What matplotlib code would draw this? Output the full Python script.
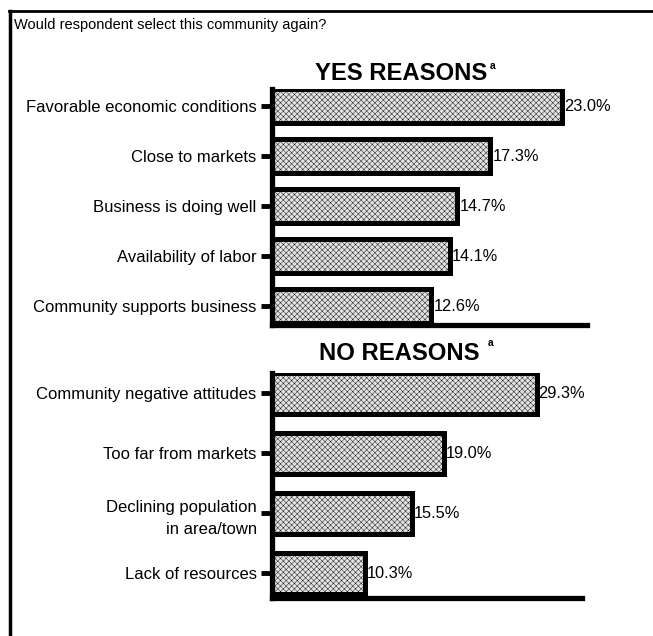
import matplotlib
matplotlib.use("Agg")
import matplotlib.pyplot as plt
from matplotlib.lines import Line2D

plt.rcParams['font.family'] = ['Liberation Sans', 'DejaVu Sans']
plt.rcParams['hatch.linewidth'] = 0.3

# Dane
yes_labels = ["Favorable economic conditions", "Close to markets", "Business is doing well",
              "Availability of labor", "Community supports business"]
yes_values = [23.0, 17.3, 14.7, 14.1, 12.6]

no_labels = ["Community negative attitudes", "Too far from markets",
             "Declining population\nin area/town", "Lack of resources"]
no_values = [29.3, 19.0, 15.5, 10.3]

W, H = 653, 636
fig = plt.figure(figsize=(W / 100, H / 100), dpi=100)


def px(x0, y0, x1, y1):
    # piksele (od gory) -> ulamki figury
    return [x0 / W, 1 - y1 / H, (x1 - x0) / W, (y1 - y0) / H]


def panel(rect, labels, values, xmax, ymax):
    ax = fig.add_axes(rect)
    pos = list(range(len(values)))
    ax.barh(pos, values, height=0.68, color='#e2e2e2', edgecolor='black',
            linewidth=3.6, hatch='xxxxxx', zorder=2)
    for p, v in zip(pos, values):
        ax.text(v + 0.2, p, f"{v:.1f}%", va='center', ha='left', fontsize=11.8)
    ax.set_xlim(0, xmax)
    ax.set_ylim(ymax, -0.34)
    ax.set_yticks(pos)
    ax.set_yticklabels(labels, fontsize=12, linespacing=1.6)
    ax.set_xticks([])
    for s in ['top', 'right']:
        ax.spines[s].set_visible(False)
    ax.spines['left'].set_linewidth(3.8)
    ax.spines['bottom'].set_linewidth(3.8)
    ax.tick_params(axis='y', length=8, width=3.5, pad=3)
    return ax


ax1 = panel(px(272, 89, 587, 325), yes_labels, yes_values, 25, 4.38)
ax2 = panel(px(272, 373, 582, 598), no_labels, no_values, 34.3, 3.41)

fig.text(14 / W, 1 - 25 / H, "Would respondent select this community again?",
         fontsize=10.5, va='center', ha='left')
fig.text(401 / W, 1 - 73 / H, "YES REASONS", fontsize=17.2, fontweight='bold',
         va='center', ha='center')
fig.text(490 / W, 1 - 66 / H, "a", fontsize=7.5, fontweight='bold', va='center')
fig.text(399 / W, 1 - 353 / H, "NO REASONS", fontsize=17.2, fontweight='bold',
         va='center', ha='center')
fig.text(488 / W, 1 - 343 / H, "a", fontsize=7.5, fontweight='bold', va='center')

# ramka
fig.add_artist(Line2D([9 / W, 1], [1 - 11 / H, 1 - 11 / H], color='black', linewidth=2))
fig.add_artist(Line2D([10 / W, 10 / W], [0, 1 - 11 / H], color='black', linewidth=2.5))

fig.savefig("out.png", dpi=100)
